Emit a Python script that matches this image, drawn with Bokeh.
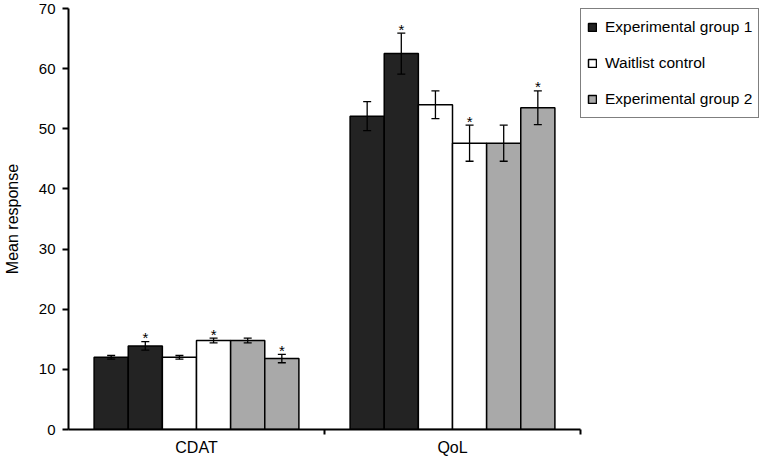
import numpy as np
from bokeh.plotting import figure
from bokeh.models import (Range1d, LinearAxis, FixedTicker, Whisker, TeeHead,
                          ColumnDataSource, Legend, LegendItem)
from bokeh.core.properties import value
from bokeh.embed import file_html
from bokeh.resources import INLINE

# ---------------- data ----------------
categories = ["CDAT", "QoL"]
groups = ["Experimental group 1", "Waitlist control", "Experimental group 2"]
group_colors = ["#232323", "#ffffff", "#a9a9a9"]

# two assessments per group (first bar, second bar)
eg1_first = [12.0, 52.1]
eg1_first_err = [0.3, 2.4]
eg1_second = [13.9, 62.5]
eg1_second_err = [0.7, 3.4]

wl_first = [12.0, 54.0]
wl_first_err = [0.3, 2.3]
wl_second = [14.8, 47.6]
wl_second_err = [0.4, 3.0]

eg2_first = [14.8, 47.6]
eg2_first_err = [0.4, 3.0]
eg2_second = [11.8, 53.5]
eg2_second_err = [0.7, 2.8]

# significance markers (*) on each bar
eg1_first_sig = [False, False]
eg1_second_sig = [True, True]
wl_first_sig = [False, False]
wl_second_sig = [True, True]
eg2_first_sig = [False, False]
eg2_second_sig = [True, True]

y_ticks = [0, 10, 20, 30, 40, 50, 60, 70]

series = [
    (0, eg1_first, eg1_first_err, eg1_first_sig),
    (0, eg1_second, eg1_second_err, eg1_second_sig),
    (1, wl_first, wl_first_err, wl_first_sig),
    (1, wl_second, wl_second_err, wl_second_sig),
    (2, eg2_first, eg2_first_err, eg2_first_sig),
    (2, eg2_second, eg2_second_err, eg2_second_sig),
]

FONT = "Liberation Sans"

# ---------------- figure ----------------
p = figure(frame_width=512, frame_height=421, output_backend="svg", toolbar_location=None,
           x_range=Range1d(0, len(categories)), y_range=Range1d(0, 70),
           x_axis_location=None, y_axis_location=None,
           min_border_left=60, min_border_right=0, min_border_top=8,
           min_border_bottom=0)
p.outline_line_color = None
p.xgrid.visible = False
p.ygrid.visible = False

n_bars = len(series)
span = 0.8
bar_w = span / n_bars
base = np.arange(len(categories)) + 0.5

legend_renderers = {}
for k, (gi, vals, errs, sig) in enumerate(series):
    xs = base - span / 2 + bar_w * (k + 0.5)
    vals = np.array(vals)
    errs = np.array(errs)
    src = ColumnDataSource(dict(x=xs, top=vals, upper=vals + errs, lower=vals - errs))
    r = p.vbar(x="x", top="top", width=bar_w, bottom=0, source=src,
               fill_color=group_colors[gi], line_color="black", line_width=1.5)
    legend_renderers.setdefault(gi, r)
    w = Whisker(source=src, base="x", upper="upper", lower="lower",
                line_color="black", line_width=1.3, level="annotation",
                upper_head=TeeHead(size=8, line_color="black", line_width=1.3),
                lower_head=TeeHead(size=8, line_color="black", line_width=1.3))
    p.add_layout(w)
    sx = [x for x, s in zip(xs, sig) if s]
    sy = [u for u, s in zip(vals + errs, sig) if s]
    if sx:
        ssrc = ColumnDataSource(dict(x=sx, y=sy, t=["*"] * len(sx)))
        p.text(x="x", y="y", text="t", source=ssrc, text_align="center",
               text_baseline="alphabetic", y_offset=-4,
               text_font=value(FONT), text_font_size="15px", text_color="black")

# ---------------- axes ----------------
yax = LinearAxis(ticker=FixedTicker(ticks=y_ticks))
yax.axis_label = "Mean response"
yax.axis_label_text_font = FONT
yax.axis_label_text_font_style = "normal"
yax.axis_label_text_font_size = "16px"
yax.axis_label_text_color = "black"
yax.axis_label_standoff = 15
yax.major_label_text_font = FONT
yax.major_label_text_font_size = "15px"
yax.major_label_text_color = "black"
yax.major_label_standoff = 7
yax.axis_line_width = 2
yax.axis_line_color = "black"
yax.major_tick_line_width = 2
yax.major_tick_line_color = "black"
yax.major_tick_in = 0
yax.major_tick_out = 6
yax.minor_tick_line_color = None
p.add_layout(yax, "left")

# category labels at centres (major), boundary ticks as minor ticks
boundaries = list(range(1, len(categories) + 1))
xax = LinearAxis(ticker=FixedTicker(ticks=list(base), minor_ticks=boundaries))
xax.major_label_overrides = {float(b): c for b, c in zip(base, categories)}
xax.major_label_text_font = FONT
xax.major_label_text_font_size = "16px"
xax.major_label_text_color = "black"
xax.major_label_standoff = 4
xax.axis_line_width = 2
xax.axis_line_color = "black"
xax.major_tick_line_color = None
xax.major_tick_in = 0
xax.major_tick_out = 0
xax.minor_tick_line_color = "black"
xax.minor_tick_line_width = 2
xax.minor_tick_in = 0
xax.minor_tick_out = 5
p.add_layout(xax, "below")

# ---------------- legend ----------------
items = [LegendItem(label=g, renderers=[legend_renderers[i]]) for i, g in enumerate(groups)]
legend = Legend(items=items, location="top_left")
legend.label_text_font = FONT
legend.label_text_font_size = "15.5px"
legend.label_text_color = "black"
legend.glyph_width = 10
legend.glyph_height = 10
legend.label_height = 24
legend.label_standoff = 8
legend.spacing = 12
legend.padding = 6
legend.margin = 0
legend.border_line_color = "black"
legend.border_line_width = 1.5
legend.background_fill_color = "white"
legend.background_fill_alpha = 1.0
p.add_layout(legend, "right")

open("out.html", "w").write(file_html(p, INLINE))
